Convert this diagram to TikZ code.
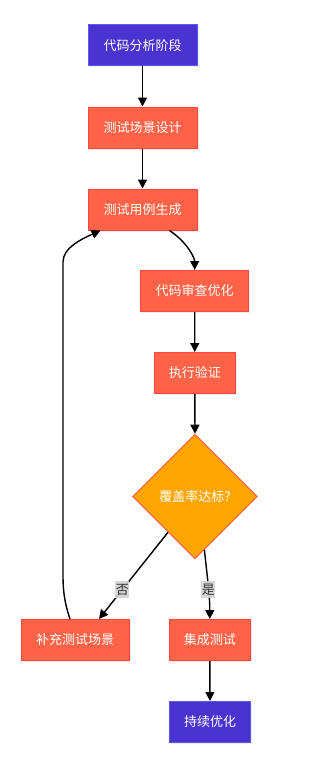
\documentclass[tikz,border=0pt]{standalone}
\usepackage{fontspec}
\setmainfont{Noto Sans CJK SC}
\usetikzlibrary{shapes.geometric,arrows.meta,shadows,calc}
\definecolor{bluefill}{HTML}{4A33D0}
\definecolor{bluedraw}{HTML}{5A5AF0}
\definecolor{redfill}{HTML}{FF6347}
\definecolor{reddraw}{HTML}{FF4444}
\definecolor{orangefill}{HTML}{FFA500}
\definecolor{orangedraw}{HTML}{FF6347}
\definecolor{lblbg}{HTML}{D3D3D3}
\tikzset{
  base/.style={rectangle, minimum height=41pt, inner sep=0pt, line width=1pt,
    text=white, font=\fontsize{13}{15}\selectfont,
    drop shadow={shadow xshift=1.5pt, shadow yshift=-1.5pt, opacity=0.15}},
  bluebox/.style={base, fill=bluefill, draw=bluedraw},
  redbox/.style={base, fill=redfill, draw=reddraw},
  decide/.style={diamond, minimum width=124.6pt, minimum height=124.6pt, inner sep=0pt,
    aspect=1, fill=orangefill, draw=orangedraw, line width=1pt, text=white,
    font=\fontsize{13}{15}\selectfont},
  conn/.style={draw=black, line width=1.4pt, -{Triangle[length=9pt,width=9pt]}},
  lbl/.style={fill=lblbg, fill opacity=0.9, text opacity=1, text=black!80,
    inner xsep=0.5pt, inner ysep=2.5pt, font=\fontsize{13}{15}\selectfont}
}
\begin{document}
\begin{tikzpicture}[x=1pt,y=-1pt]
\useasboundingbox (0,0) rectangle (308,784);
\node[bluebox, minimum width=109pt] (n1) at (142.5,45.5) {代码分析阶段};
\node[redbox, minimum width=109pt] (n2) at (142.5,127.5) {测试场景设计};
\node[redbox, minimum width=109pt] (n3) at (142.5,209.5) {测试用例生成};
\node[redbox, minimum width=108pt] (n4) at (194.7,291) {代码审查优化};
\node[redbox, minimum width=81pt] (n5) at (194.8,373) {执行验证};
\node[decide] (d) at (195,496.5) {覆盖率达标?};
\node[redbox, minimum width=108pt] (n7) at (75,640) {补充测试场景};
\node[redbox, minimum width=81pt] (n8) at (209.8,640) {集成测试};
\node[bluebox, minimum width=81.7pt] (n9) at (210,722) {持续优化};

\draw[conn] (n1) -- (n2);
\draw[conn] (n2) -- (n3);
\draw[conn] ([xshift=27pt]n3.south) .. controls +(18,12) and +(0,-12) .. ([xshift=0pt]n4.north);
\draw[conn] (n4) -- (n5);
\draw[conn] (n5.south) -- (d.north);
\draw[conn] ($(d.west)!0.57!(d.south)$) -- node[lbl, pos=0.66] {否} ([xshift=24pt]n7.north);
\draw[conn] ($(d.south)!0.15!(d.east)$) .. controls +(2,20) and +(0,-25) .. node[lbl, pos=0.6] {是} (n8.north);
\draw[conn] (n8) -- (n9);
\draw[conn] ([xshift=-5pt]n7.north) .. controls +(-6,-18) and +(0,14) .. (63,575) -- (63,262)
  .. controls +(0,-14) and +(-20,9) .. ([xshift=-42pt]n3.south);
\end{tikzpicture}
\end{document}
